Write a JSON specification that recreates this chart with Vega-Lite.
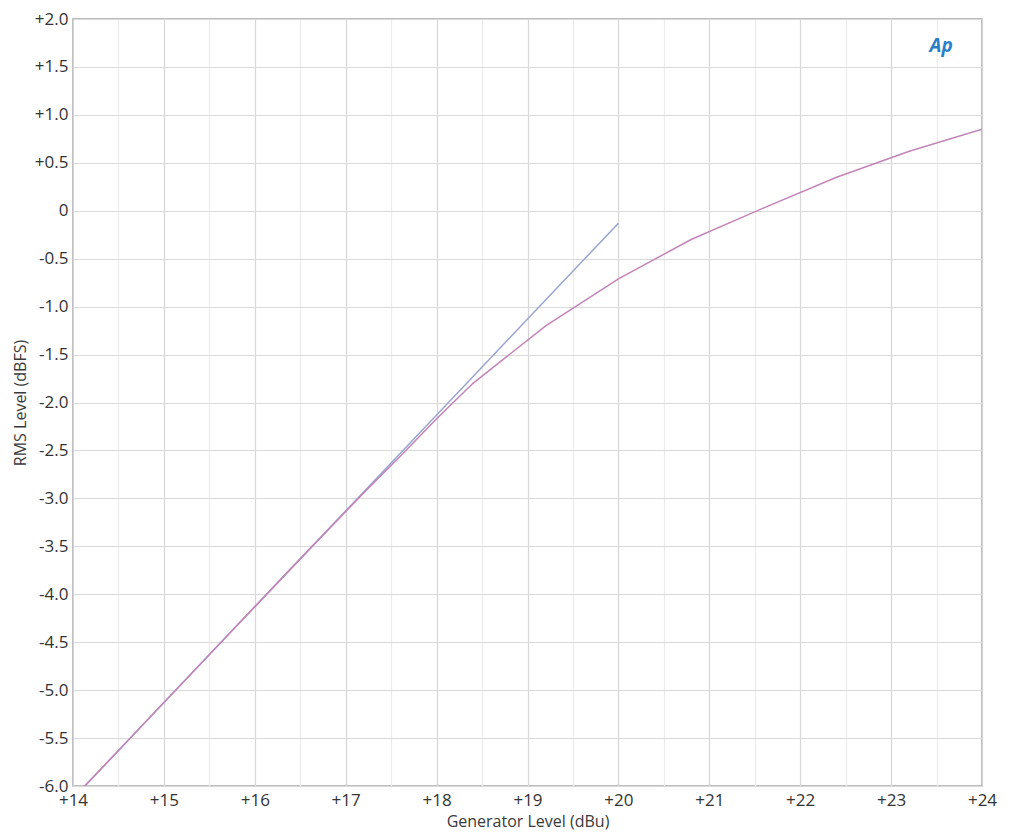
{
  "$schema": "https://vega.github.io/schema/vega-lite/v6.json",
  "width": 909,
  "height": 767,
  "autosize": {"type": "none"},
  "padding": {"left": 73, "top": 19, "right": 42, "bottom": 48},
  "background": "white",
  "config": {
    "view": {"stroke": "#a8a8a8", "strokeWidth": 1.5},
    "font": "Open Sans"
  },
  "datasets": {
    "curves": [
      {"series": "A", "gen": 14.0, "rms": -6.13},
      {"series": "A", "gen": 14.8, "rms": -5.33},
      {"series": "A", "gen": 15.6, "rms": -4.53},
      {"series": "A", "gen": 16.4, "rms": -3.73},
      {"series": "A", "gen": 17.2, "rms": -2.93},
      {"series": "A", "gen": 18.0, "rms": -2.13},
      {"series": "A", "gen": 18.8, "rms": -1.33},
      {"series": "A", "gen": 19.6, "rms": -0.53},
      {"series": "A", "gen": 20.0, "rms": -0.13},
      {"series": "B", "gen": 14.0, "rms": -6.13},
      {"series": "B", "gen": 14.8, "rms": -5.33},
      {"series": "B", "gen": 15.6, "rms": -4.53},
      {"series": "B", "gen": 16.4, "rms": -3.73},
      {"series": "B", "gen": 17.2, "rms": -2.94},
      {"series": "B", "gen": 17.6, "rms": -2.56},
      {"series": "B", "gen": 18.0, "rms": -2.17},
      {"series": "B", "gen": 18.4, "rms": -1.80},
      {"series": "B", "gen": 19.2, "rms": -1.20},
      {"series": "B", "gen": 20.0, "rms": -0.71},
      {"series": "B", "gen": 20.8, "rms": -0.30},
      {"series": "B", "gen": 21.6, "rms": 0.03},
      {"series": "B", "gen": 22.4, "rms": 0.35},
      {"series": "B", "gen": 23.2, "rms": 0.62},
      {"series": "B", "gen": 24.0, "rms": 0.85}
    ],
    "logo": [{"gen": 23.55, "rms": 1.72, "label": "Ap"}]
  },
  "layer": [
    {
      "data": {"name": "curves"},
      "mark": {"type": "line", "strokeWidth": 1.5, "clip": true},
      "encoding": {
        "x": {
          "field": "gen", "type": "quantitative",
          "scale": {"domain": [14, 24], "nice": false, "zero": false},
          "axis": {
            "title": "Generator Level (dBu)",
            "titleFontSize": 16, "titleFontWeight": "normal", "titleColor": "#3a3a3a",
            "titleBaseline": "bottom", "titleY": 43,
            "values": [14, 14.5, 15, 15.5, 16, 16.5, 17, 17.5, 18, 18.5, 19, 19.5, 20, 20.5, 21, 21.5, 22, 22.5, 23, 23.5, 24],
            "labelExpr": "datum.value % 1 == 0 ? '+' + datum.value : ''",
            "labelFontSize": 17, "labelColor": "#333333", "labelPadding": 6,
            "labelFlush": false,
            "ticks": false, "domain": false,
            "grid": true,
            "gridColor": {"condition": {"test": "datum.value % 1 != 0", "value": "#ececec"}, "value": "#d6d6d6"},
            "gridWidth": 1.2
          }
        },
        "y": {
          "field": "rms", "type": "quantitative",
          "scale": {"domain": [-6, 2], "nice": false, "zero": false},
          "axis": {
            "title": "RMS Level (dBFS)",
            "titleFontSize": 16, "titleFontWeight": "normal", "titleColor": "#3a3a3a", "titleX": -53, "titleBaseline": "middle",
            "values": [-6, -5.5, -5, -4.5, -4, -3.5, -3, -2.5, -2, -1.5, -1, -0.5, 0, 0.5, 1, 1.5, 2],
            "labelExpr": "datum.value > 0 ? '+' + format(datum.value, '.1f') : (datum.value == 0 ? '0' : '-' + format(abs(datum.value), '.1f'))",
            "labelFontSize": 17, "labelColor": "#333333", "labelPadding": 5,
            "labelFlush": false,
            "ticks": false, "domain": false,
            "grid": true, "gridColor": "#dadada", "gridWidth": 1.2
          }
        },
        "color": {
          "field": "series", "type": "nominal",
          "scale": {"domain": ["A", "B"], "range": ["#9aa5cf", "#c384b8"]},
          "legend": null
        },
        "order": {"field": "gen", "type": "quantitative"}
      }
    },
    {
      "data": {"name": "logo"},
      "mark": {"type": "text", "fontSize": 19, "fontStyle": "italic", "fontWeight": "bold", "color": "#2a7fc8", "font": "Open Sans"},
      "encoding": {
        "x": {"field": "gen", "type": "quantitative"},
        "y": {"field": "rms", "type": "quantitative"},
        "text": {"field": "label"}
      }
    }
  ]
}
